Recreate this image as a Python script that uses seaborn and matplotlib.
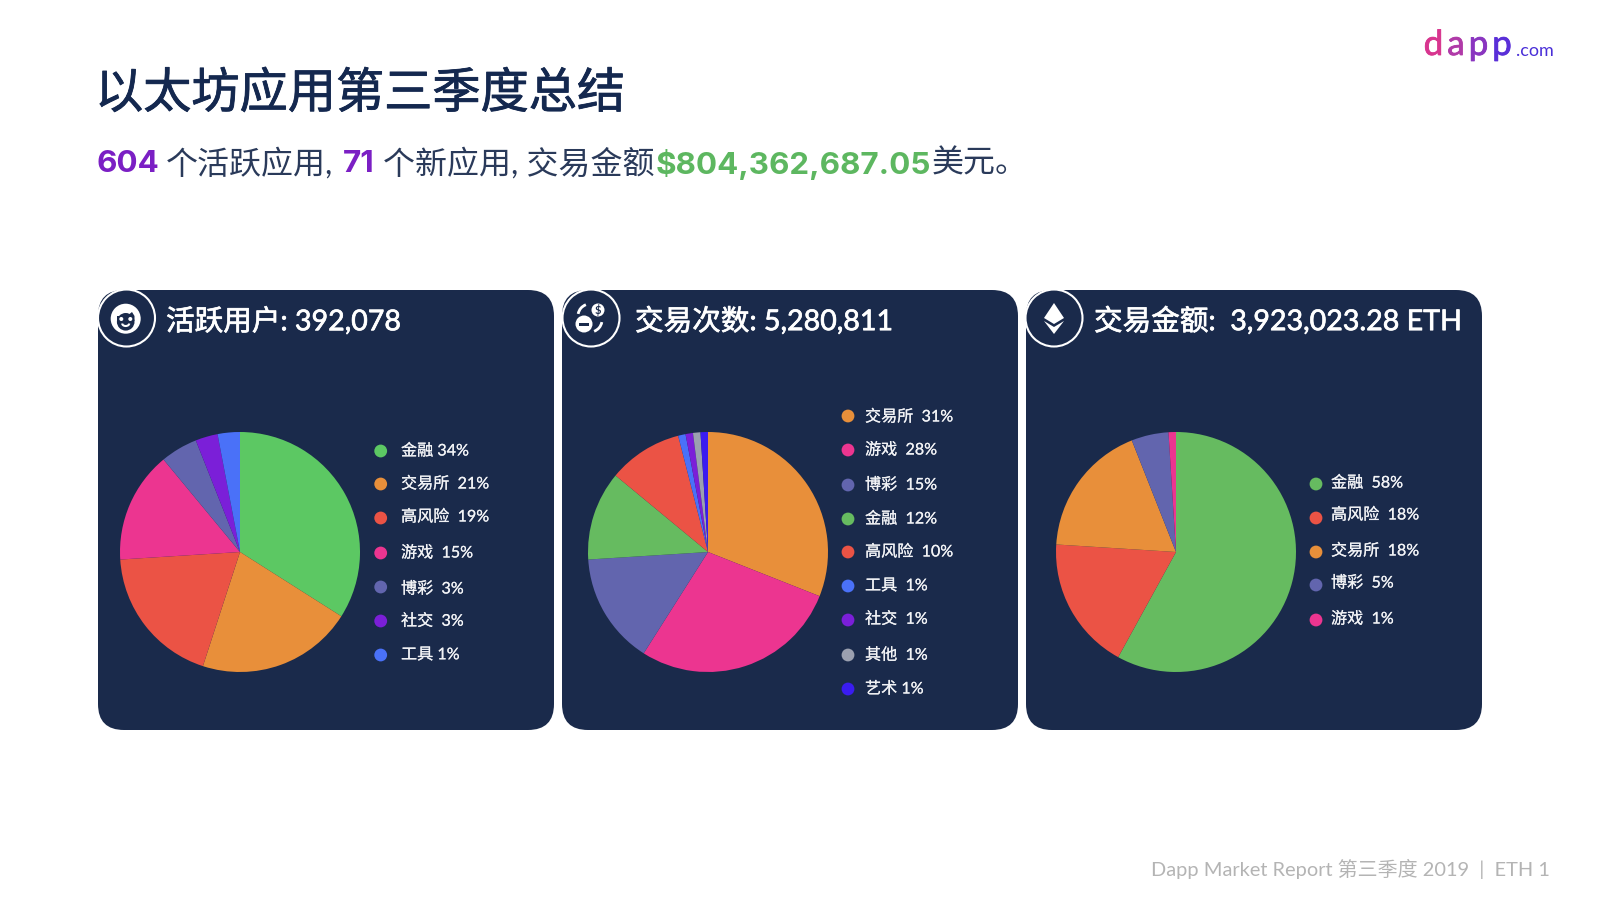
import numpy as np
import pandas as pd
import matplotlib
matplotlib.use('Agg')
import matplotlib.pyplot as plt
import matplotlib.patheffects as pe
from matplotlib.patches import FancyBboxPatch, Circle, Polygon, Arc, Rectangle
import seaborn as sns

# data
users_shares = [34, 21, 19, 15, 5, 3, 3]
users_legend = ['金融 34%', '交易所  21%', '高风险  19%', '游戏  15%', '博彩  3%', '社交  3%', '工具 1%']
users_colors = ['#5CC863', '#E88F3A', '#EB5345', '#EC3590', '#6265AE', '#7B1FD8', '#4A71F8']

tx_shares = [31, 28, 15, 12, 10, 1, 1, 1, 1]
tx_legend = ['交易所  31%', '游戏  28%', '博彩  15%', '金融  12%', '高风险  10%', '工具  1%', '社交  1%', '其他  1%', '艺术 1%']
tx_colors = ['#E88F3A', '#EC3590', '#6265AE', '#66BB60', '#EB5345', '#4A71F8', '#7B1FD8', '#9BA0B0', '#3A1CF0']

vol_shares = [58, 18, 18, 5, 1]
vol_legend = ['金融  58%', '高风险  18%', '交易所  18%', '博彩  5%', '游戏  1%']
vol_colors = ['#66BB60', '#EB5345', '#E88F3A', '#6265AE', '#EC3590']

headers = ['活跃用户: 392,078', '交易次数: 5,280,811', '交易金额:  3,923,023.28 ETH']

# layout, in pixels of the 1600x900 picture
PANEL = '#1A2A4B'
NAVY = '#14284F'
panel_x = [98, 562, 1026]
icon_x = [126.5, 591, 1054]
header_x = [166, 635, 1094]
pie_cx = [240, 708, 1176]
dot_x = [380.7, 848, 1316]
text_x = [401, 865, 1331]
dot_y = [[451, 484, 518, 553, 587, 621, 655],
         [416, 450, 485, 519, 552, 586, 620, 655, 689],
         [484, 518, 552, 585, 620]]
text_y = [[451, 484, 517, 553, 589, 621, 655],
          [417, 450, 485, 519, 552, 586, 619, 655, 689],
          [483, 515, 551, 583, 619]]

sns.set_theme(style='white')
plt.rcParams['font.family'] = ['Lato', 'Noto Sans CJK SC', 'DejaVu Sans']

fig = plt.figure(figsize=(16, 9), dpi=100, facecolor='white')
bg = fig.add_axes([0, 0, 1, 1])
bg.set_xlim(0, 1600)
bg.set_ylim(900, 0)
bg.axis('off')


def thick(c, w):
    return [pe.withStroke(linewidth=w, foreground=c)]


# title lines
bg.text(95, 93, '以太坊应用第三季度总结', fontsize=34.7, color=NAVY, va='center',
        path_effects=thick(NAVY, 0.6))
sub = [(97, '604', '#7B1FC4', 'bold'), (166, '个活跃应用,', '#2A3A5A', 'normal'),
       (343, '71', '#7B1FC4', 'bold'), (383, '个新应用, 交易金额', '#2A3A5A', 'normal'),
       (656, '$804,362,687.05', '#5DB760', 'bold'), (932, '美元。', '#2A3A5A', 'normal')]
for x, s, c, w in sub:
    fam = ['Inter', 'Noto Sans CJK SC'] if w == 'bold' else ['Lato', 'Noto Sans CJK SC']
    size = 22.6 if w == 'bold' else 23
    bg.text(x, 164, s, fontsize=size, color=c, weight=w, va='center', family=fam)

# logo, one colour per letter
for x, s, c in zip([1433.5, 1456, 1478.5, 1502], 'dapp', ['#D8358F', '#B03AA8', '#8A35C0', '#5A2FD8']):
    bg.text(x, 55, s, fontsize=25, color=c, va='baseline', ha='center', path_effects=thick(c, 0.6))
bg.text(1516, 56, '.com', fontsize=13, color='#4A2FD8', va='baseline')

bg.text(1550, 869, 'Dapp Market Report 第三季度 2019  |  ETH 1', fontsize=14.4, color='#B4B4B4', ha='right', va='center')

# panels and header badges
for px, ix, hx, h in zip(panel_x, icon_x, header_x, headers):
    bg.add_patch(FancyBboxPatch((px, 290), 456, 440, boxstyle='round,pad=0,rounding_size=26', fc=PANEL, ec='none'))
    bg.add_patch(Circle((ix, 318), 28.5, fc=PANEL, ec='white', lw=1.5))
    bg.text(hx, 321, h, fontsize=20.6, color='white', va='center', path_effects=thick('white', 0.5))

# face icon
bg.add_patch(Circle((125.7, 318.7), 15, fc='white', ec='none'))
bg.add_patch(Circle((125.7, 321.8), 8.8, fc=PANEL, ec='none'))
bg.add_patch(Polygon([(117, 321), (117, 316), (127, 316), (132, 312), (134.5, 316), (134.5, 321)], fc=PANEL, ec='none'))
bg.add_patch(Circle((121.3, 319), 2, fc='white', ec='none'))
bg.add_patch(Circle((130.3, 319), 2, fc='white', ec='none'))
bg.add_patch(Arc((125.7, 323.5), 7, 5, theta1=0, theta2=180, color='white', lw=1.5))

# coins icon
bg.add_patch(Circle((598, 310), 6.5, fc='white', ec='none'))
bg.text(598, 310, '$', fontsize=8, color=PANEL, ha='center', va='center', weight='bold')
bg.add_patch(Circle((584, 324), 8.5, fc='white', ec='none'))
bg.add_patch(Rectangle((579, 322.5), 10, 3, fc=PANEL, ec='none'))
bg.add_patch(Arc((590, 316), 24, 24, theta1=190, theta2=250, color='white', lw=2))
bg.add_patch(Arc((590, 320), 24, 24, theta1=10, theta2=70, color='white', lw=2))

# eth icon
bg.add_patch(Polygon([(1054, 303), (1064, 318), (1054, 324), (1044, 318)], fc='white', ec='none'))
bg.add_patch(Polygon([(1044, 321), (1054, 327), (1064, 321), (1054, 334)], fc='white', ec='none'))

# legends
for k, labels, colors in [(0, users_legend, users_colors), (1, tx_legend, tx_colors), (2, vol_legend, vol_colors)]:
    df = pd.DataFrame({'x': dot_x[k], 'y': dot_y[k], 'label': labels})
    sns.scatterplot(data=df, x='x', y='y', hue='label', palette=colors, s=85, linewidth=0, legend=False, ax=bg, zorder=3)
    for y, lab in zip(text_y[k], labels):
        bg.text(text_x[k], y, lab, fontsize=11.6, color='#F2F3F6', va='center', path_effects=thick('#F2F3F6', 0.12))
bg.set_xlim(0, 1600)
bg.set_ylim(900, 0)
bg.axis('off')

# pies
R = 120
for cx, shares, colors in zip(pie_cx, [users_shares, tx_shares, vol_shares], [users_colors, tx_colors, vol_colors]):
    ax = fig.add_axes([(cx - R) / 1600, 1 - (552 + R) / 900, 2 * R / 1600, 2 * R / 900])
    ax.pie(shares, colors=sns.color_palette(colors), startangle=90, counterclock=False, radius=1,
           wedgeprops={'linewidth': 0})
    ax.set_xlim(-1, 1)
    ax.set_ylim(-1, 1)
    ax.patch.set_alpha(0)

fig.savefig('out.png', dpi=100)
